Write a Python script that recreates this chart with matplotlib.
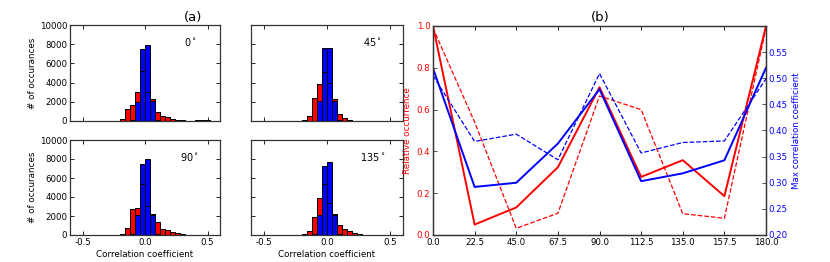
import numpy as np
import matplotlib
matplotlib.use("Agg")
import matplotlib.pyplot as plt
from matplotlib.ticker import FormatStrFormatter

# ---------------- data ----------------
bin_left = [-0.24, -0.20, -0.16, -0.12, -0.08, -0.04, 0.00, 0.04, 0.08, 0.12,
            0.16, 0.20, 0.24, 0.28, 0.32, 0.36, 0.40, 0.44, 0.48]
bin_width = 0.04

angles_hist = ["0", "45", "90", "135"]
red_0 = [20, 175, 1260, 1680, 3040, 5210, 2970, 2240, 980, 560, 385, 245, 140, 70, 30, 20, 60, 150, 70]
blue_0 = [0, 0, 30, 150, 2000, 7480, 7900, 2100, 60, 10, 0, 0, 0, 0, 0, 0, 0, 0, 0]
red_45 = [30, 140, 530, 2380, 3880, 5100, 3950, 2270, 770, 280, 140, 50, 20, 0, 0, 0, 0, 0, 0]
blue_45 = [0, 0, 0, 50, 2130, 7620, 7620, 2130, 100, 0, 0, 0, 0, 0, 0, 0, 0, 0, 0]
red_90 = [0, 100, 720, 2700, 2840, 5370, 3050, 2150, 1370, 670, 490, 315, 175, 90, 50, 30, 20, 10, 5]
blue_90 = [0, 0, 20, 150, 2100, 7470, 8030, 2210, 80, 10, 0, 0, 0, 0, 0, 0, 0, 0, 0]
red_135 = [0, 100, 390, 1930, 3930, 5400, 3400, 2150, 1050, 600, 390, 210, 100, 50, 20, 10, 0, 0, 0]
blue_135 = [0, 0, 20, 100, 2070, 7230, 7720, 2210, 80, 10, 0, 0, 0, 0, 0, 0, 0, 0, 0]

angle_b = [0.0, 22.5, 45.0, 67.5, 90.0, 112.5, 135.0, 157.5, 180.0]
rel_occ_solid = [1.0, 0.05, 0.132, 0.324, 0.707, 0.278, 0.358, 0.186, 1.0]
rel_occ_dashed = [0.99, 0.54, 0.032, 0.104, 0.665, 0.600, 0.102, 0.080, 0.99]
maxcorr_solid = [0.519, 0.292, 0.300, 0.375, 0.479, 0.303, 0.318, 0.343, 0.520]
maxcorr_dashed = [0.505, 0.379, 0.393, 0.344, 0.509, 0.357, 0.377, 0.380, 0.499]

# ---------------- figure ----------------
W, H = 830, 262
fig = plt.figure(figsize=(W / 100, H / 100), dpi=100)

def box(l, r, t, b):
    return [l / W, 1 - b / H, (r - l) / W, (b - t) / H]

TICK = 6.2
LAB = 6.3

def style(ax):
    ax.tick_params(direction="in", length=3, width=0.6, labelsize=TICK,
                   top=True, right=True, pad=2)
    for s in ax.spines.values():
        s.set_linewidth(0.9)
        s.set_color("#333333")

hist_boxes = [box(70, 220, 25, 121), box(251, 403, 25, 121),
              box(70, 220, 140, 235), box(251, 403, 140, 235)]
hist_data = [(red_0, blue_0), (red_45, blue_45), (red_90, blue_90), (red_135, blue_135)]

for i, (bx, (rd, bl), ang) in enumerate(zip(hist_boxes, hist_data, angles_hist)):
    ax = fig.add_axes(bx)
    ax.bar(bin_left, rd, width=bin_width, align="edge", color="red",
           edgecolor="black", linewidth=0.7)
    ax.bar(bin_left, bl, width=bin_width, align="edge", color="blue",
           edgecolor="black", linewidth=0.7)
    ax.bar(bin_left, rd, width=bin_width, align="edge", fill=False,
           edgecolor="black", linewidth=0.7)
    ax.set_xlim(-0.6, 0.6)
    ax.set_ylim(0, 10000)
    ax.set_xticks([-0.5, 0.0, 0.5])
    ax.set_yticks([0, 2000, 4000, 6000, 8000, 10000])
    ax.xaxis.set_major_formatter(FormatStrFormatter("%.1f"))
    style(ax)
    if i < 2:
        ax.set_xticklabels([])
    else:
        ax.set_xlabel("Correlation coefficient", fontsize=LAB, labelpad=2)
    if i % 2 == 1:
        ax.set_yticklabels([])
    else:
        ax.set_ylabel("# of occurances", fontsize=LAB, labelpad=2)
    ax.text(0.80, 0.82, ang + r"$^\circ$", transform=ax.transAxes,
            fontsize=7, ha="center", va="center")

fig.text(193 / W, 1 - 17 / H, "(a)", fontsize=9.5, ha="center", va="center")

# ---------------- panel (b) ----------------
axb = fig.add_axes(box(433, 766, 26, 235))
axb.plot(angle_b, rel_occ_solid, color="red", lw=1.4)
axb.plot(angle_b, rel_occ_dashed, color="red", lw=0.9, ls="--")
axb.set_xlim(0, 180)
axb.set_ylim(0, 1)
axb.set_xticks(angle_b)
axb.xaxis.set_major_formatter(FormatStrFormatter("%.1f"))
axb.set_yticks([0, 0.2, 0.4, 0.6, 0.8, 1.0])
axb.yaxis.set_major_formatter(FormatStrFormatter("%.1f"))
style(axb)
axb.tick_params(axis="y", colors="red", right=False)
axb.tick_params(axis="y", labelcolor="red")
for lab in axb.get_yticklabels():
    lab.set_color("red")
axb.set_ylabel("Relative occurrence", color="red", fontsize=LAB, labelpad=3)
axb.tick_params(axis="y", color="#333333")

axr = axb.twinx()
axr.plot(angle_b, maxcorr_solid, color="blue", lw=1.4)
axr.plot(angle_b, maxcorr_dashed, color="blue", lw=0.9, ls="--")
axr.set_ylim(0.2, 0.6)
axr.set_yticks([0.20, 0.25, 0.30, 0.35, 0.40, 0.45, 0.50, 0.55])
axr.yaxis.set_major_formatter(FormatStrFormatter("%.2f"))
axr.tick_params(axis="y", direction="in", length=3, width=0.6, labelsize=TICK,
                labelcolor="blue", color="#333333", pad=2)
for s in axr.spines.values():
    s.set_linewidth(0.9)
    s.set_color("#333333")
axr.set_ylabel("Max correlation coefficient", color="blue", fontsize=LAB, labelpad=3)

fig.text(600 / W, 1 - 18 / H, "(b)", fontsize=9.5, ha="center", va="center")

fig.savefig("out.png", dpi=100)
